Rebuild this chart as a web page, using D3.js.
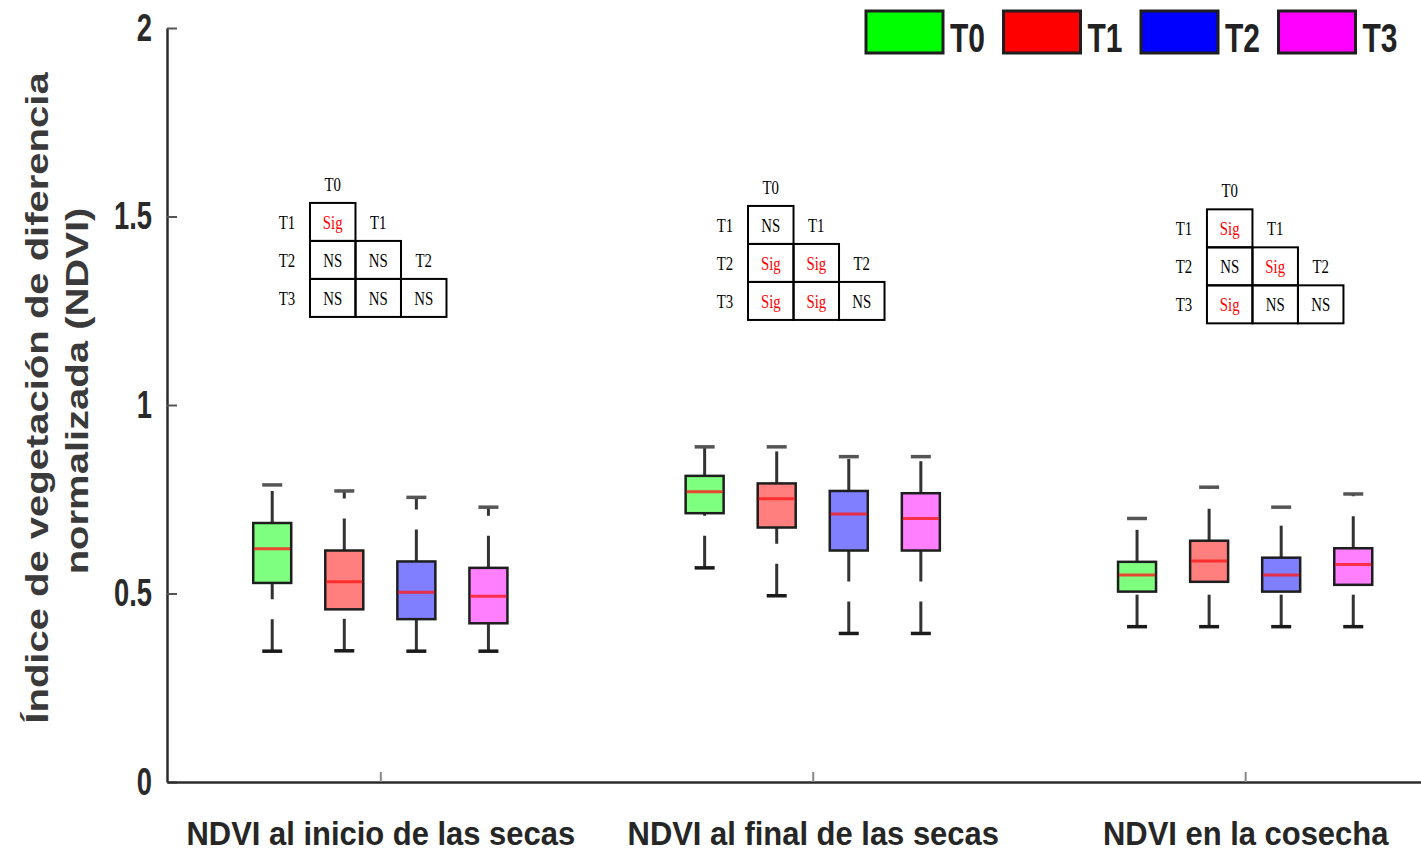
<!DOCTYPE html>
<html>
<head>
<meta charset="utf-8">
<script src="https://cdn.jsdelivr.net/npm/d3@7"></script>
<style>
  body { margin: 0; background: #fff; }
  svg { display: block; }
</style>
</head>
<body>
<svg id="chart" width="1421" height="851"></svg>
<script>
// ---- data -------------------------------------------------------------
const periods = ["NDVI al inicio de las secas", "NDVI al final de las secas", "NDVI en la cosecha"];
const treatments = ["T0", "T1", "T2", "T3"];
const treatmentColors = ["#00ff00", "#ff0000", "#0000ff", "#ff00ff"];

// [lower whisker, Q1, median, Q3, upper whisker] for T0..T3
const ndviInicio = [
  [0.347, 0.528, 0.619, 0.687, 0.788],
  [0.348, 0.458, 0.531, 0.614, 0.772],
  [0.347, 0.432, 0.503, 0.585, 0.755],
  [0.347, 0.421, 0.493, 0.568, 0.729]
];
const ndviFinal = [
  [0.568, 0.713, 0.770, 0.812, 0.889],
  [0.494, 0.675, 0.751, 0.792, 0.889],
  [0.394, 0.614, 0.711, 0.772, 0.863],
  [0.394, 0.614, 0.699, 0.766, 0.863]
];
const ndviCosecha = [
  [0.412, 0.505, 0.549, 0.584, 0.699],
  [0.412, 0.531, 0.586, 0.640, 0.782],
  [0.412, 0.505, 0.549, 0.595, 0.729],
  [0.412, 0.523, 0.577, 0.620, 0.764]
];

// pairwise comparisons (row Ti vs columns T0..Ti-1)
const sigInicio  = [["Sig"], ["NS", "NS"], ["NS", "NS", "NS"]];
const sigFinal   = [["NS"], ["Sig", "Sig"], ["Sig", "Sig", "NS"]];
const sigCosecha = [["Sig"], ["NS", "Sig"], ["Sig", "NS", "NS"]];

const yTicks = [0, 0.5, 1, 1.5, 2];
const yTickLabels = ["0", "0.5", "1", "1.5", "2"];
const yTitle = ["Índice de vegetación de diferencia", "normalizada (NDVI)"];

// ---- layout -----------------------------------------------------------
const W = 1421, H = 851;
const svg = d3.select("#chart");
const summaries = [ndviInicio, ndviFinal, ndviCosecha];
const sigTables = [sigInicio, sigFinal, sigCosecha];

const groupStride = 6;              // slots per period (4 boxes + gap)
const x = d3.scaleLinear().domain([-1.46, 15.94]).range([167, 1421]);
const y = d3.scaleLinear().domain([0, 2]).range([782, 28]);
const slot = (g, t) => g * groupStride + t;
const groupCenters = periods.map((p, g) => g * groupStride + 1.5);

const boxW = 38, capW = 20;
const axisColor = "#2b2b2b";

// ---- axes -------------------------------------------------------------
const yAxis = svg.append("g")
  .attr("transform", `translate(${x.range()[0]},0)`)
  .call(d3.axisLeft(y).tickValues(yTicks).tickFormat((d, i) => yTickLabels[i])
    .tickSizeInner(-10).tickSizeOuter(0).tickPadding(15));
yAxis.select(".domain").attr("stroke", axisColor).attr("stroke-width", 2.5);
yAxis.selectAll(".tick line").attr("stroke", "#555").attr("stroke-width", 2);
yAxis.selectAll(".tick text")
  .attr("fill", "#2a2a2a")
  .attr("font-family", "Liberation Sans, Arial, sans-serif")
  .attr("font-weight", "bold")
  .attr("font-size", 38)
  .each(function () {
    const t = d3.select(this);
    const tx = +t.attr("x");
    t.attr("x", 0).attr("transform", `translate(${tx},0) scale(0.72,1)`);
  });

const xAxis = svg.append("g")
  .attr("transform", `translate(0,${y(0)})`)
  .call(d3.axisBottom(x).tickValues(groupCenters).tickFormat((d, i) => periods[i])
    .tickSizeInner(-10).tickSizeOuter(0).tickPadding(39));
xAxis.select(".domain").attr("stroke", axisColor).attr("stroke-width", 2.5);
xAxis.selectAll(".tick line").attr("stroke", "#888").attr("stroke-width", 2);
xAxis.selectAll(".tick text")
  .attr("fill", "#262626")
  .attr("font-family", "Liberation Sans, Arial, sans-serif")
  .attr("font-weight", "bold")
  .attr("font-size", 34)
  .each(function () {
    const t = d3.select(this);
    const ty = +t.attr("y");
    t.attr("y", 0).attr("transform", `translate(0,${ty}) scale(0.91,1)`);
  });

// y axis title (two rotated lines)
const titleG = svg.append("g")
  .attr("font-family", "Liberation Sans, Arial, sans-serif")
  .attr("font-weight", "bold")
  .attr("font-size", 40)
  .attr("fill", "#3a3a3a")
  .attr("text-anchor", "middle");
titleG.append("text").text(yTitle[0])
  .attr("transform", "translate(48,398) scale(0.8,1) rotate(-90)");
titleG.append("text").text(yTitle[1])
  .attr("transform", "translate(88,391) scale(0.8,1) rotate(-90)");

// ---- box plots --------------------------------------------------------
const boxes = [];
summaries.forEach((rows, g) => rows.forEach((s, t) => boxes.push({
  g, t, lo: s[0], q1: s[1], med: s[2], q3: s[3], hi: s[4]
})));

const bg = svg.append("g").selectAll("g.box").data(boxes).join("g").attr("class", "box");

// whiskers: dashed, drawn from the lower value up to the higher one
bg.append("line")
  .attr("x1", d => x(slot(d.g, d.t))).attr("x2", d => x(slot(d.g, d.t)))
  .attr("y1", d => y(d.q3)).attr("y2", d => y(d.hi))
  .attr("stroke", "#333").attr("stroke-width", 3).attr("stroke-dasharray", "32,20");
bg.append("line")
  .attr("x1", d => x(slot(d.g, d.t))).attr("x2", d => x(slot(d.g, d.t)))
  .attr("y1", d => y(d.lo)).attr("y2", d => y(d.q1))
  .attr("stroke", "#333").attr("stroke-width", 3).attr("stroke-dasharray", "32,20");

// whisker caps
["hi", "lo"].forEach(k => {
  bg.append("line")
    .attr("x1", d => x(slot(d.g, d.t)) - capW / 2).attr("x2", d => x(slot(d.g, d.t)) + capW / 2)
    .attr("y1", d => y(d[k])).attr("y2", d => y(d[k]))
    .attr("stroke", k === "hi" ? "#555" : "#1a1a1a").attr("stroke-width", 3.5);
});

// interquartile boxes
bg.append("rect")
  .attr("x", d => x(slot(d.g, d.t)) - boxW / 2)
  .attr("width", boxW)
  .attr("y", d => y(d.q3))
  .attr("height", d => y(d.q1) - y(d.q3))
  .attr("fill", d => treatmentColors[d.t]).attr("fill-opacity", 0.5)
  .attr("stroke", "#1e1e1e").attr("stroke-width", 2.5);

// medians
bg.append("line")
  .attr("x1", d => x(slot(d.g, d.t)) - boxW / 2 + 1).attr("x2", d => x(slot(d.g, d.t)) + boxW / 2 - 1)
  .attr("y1", d => y(d.med)).attr("y2", d => y(d.med))
  .attr("stroke", "#ff1a1a").attr("stroke-opacity", 0.8).attr("stroke-width", 3);

// ---- significance tables ---------------------------------------------
const tableAnchor = [
  { px: 0.524, top: 1.536 },
  { px: 6.602, top: 1.528 },
  { px: 12.97, top: 1.519 }
];
const cellW = 45.5, cellH = 38;
const tableFont = "Liberation Serif, Times New Roman, serif";

function serifText(sel, tx, ty, str, color) {
  sel.append("text")
    .attr("transform", `translate(${tx},${ty}) scale(0.78,1)`)
    .attr("text-anchor", "middle")
    .attr("dy", "0.35em")
    .attr("font-family", tableFont)
    .attr("font-size", 19)
    .attr("fill", color)
    .text(str);
}

sigTables.forEach((tbl, g) => {
  const left = x(tableAnchor[g].px);
  const top = y(tableAnchor[g].top);
  const tg = svg.append("g");
  serifText(tg, left + cellW / 2, top - 19, treatments[0], "#000");
  tbl.forEach((row, r) => {
    const cy = top + r * cellH;
    serifText(tg, left - 23, cy + cellH / 2, treatments[r + 1], "#000");
    row.forEach((v, c) => {
      tg.append("rect")
        .attr("x", left + c * cellW).attr("y", cy)
        .attr("width", cellW).attr("height", cellH)
        .attr("fill", "none").attr("stroke", "#000").attr("stroke-width", 2);
      serifText(tg, left + c * cellW + cellW / 2, cy + cellH / 2, v, v === "Sig" ? "#ff0000" : "#000");
    });
    if (r + 1 < treatments.length - 1) {
      serifText(tg, left + (r + 1) * cellW + cellW / 2, cy + cellH / 2, treatments[r + 1], "#000");
    }
  });
});

// ---- legend -----------------------------------------------------------
const legend = svg.append("g").selectAll("g").data(treatments).join("g")
  .attr("transform", (d, i) => `translate(${866 + i * 137.5},11)`);
legend.append("rect")
  .attr("width", 77).attr("height", 42)
  .attr("fill", (d, i) => treatmentColors[i])
  .attr("stroke", "#1e1e1e").attr("stroke-width", 3);
legend.append("text")
  .attr("transform", "translate(84,41) scale(0.75,1)")
  .attr("font-family", "Liberation Sans, Arial, sans-serif")
  .attr("font-weight", "bold")
  .attr("font-size", 40)
  .attr("fill", "#222")
  .text(d => d);
</script>
</body>
</html>
